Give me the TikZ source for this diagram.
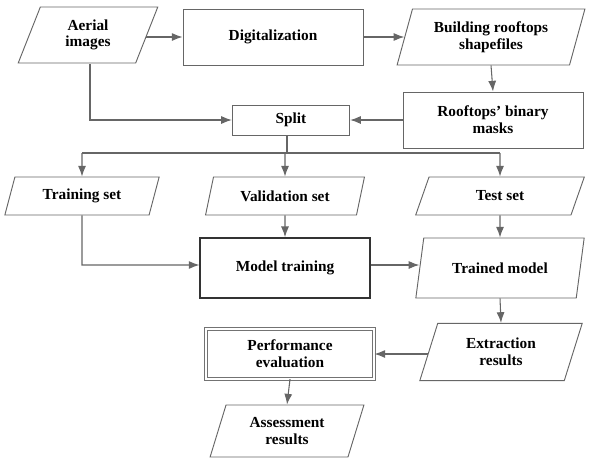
\documentclass[tikz,border=0pt]{standalone}
\usepackage{fontspec}
\setmainfont{Liberation Serif}
\usetikzlibrary{shapes.geometric,arrows.meta}
\begin{document}
\begin{tikzpicture}[x=0.75pt,y=-0.75pt,
  base/.style={draw=black!60,line width=0.7pt,align=center,font=\fontsize{11.5}{12.5}\selectfont\bfseries,inner sep=2pt},
  box/.style={base,rectangle},
  para/.style={base,trapezium,trapezium left angle=72,trapezium right angle=108,trapezium stretches=true},
  conn/.style={draw=black!60,line width=0.8pt,-{Latex[length=8pt,width=6pt]}}]
\useasboundingbox (0,0) rectangle (602,458);
\node[para,minimum width=105pt,minimum height=42pt] (aer) at (88,35) {Aerial\\images};
\node[box,minimum width=135pt,minimum height=42pt] (dig) at (273,37) {Digitalization};
\node[para,minimum width=141pt,minimum height=42pt] (bld) at (491,37) {Building rooftops\\shapefiles};
\node[box,minimum width=135pt,minimum height=42pt] (msk) at (493,120) {Rooftops' binary\\masks};
\node[box,minimum width=88pt,minimum height=22.5pt] (spl) at (291,120) {Split};
\node[para,minimum width=116pt,minimum height=28.5pt] (trn) at (82,196) {Training set};
\node[para,minimum width=120pt,minimum height=28.5pt] (val) at (285,196) {Validation set};
\node[para,minimum width=127pt,minimum height=28.5pt] (tst) at (500,196) {Test set};
\node[box,draw=black!80,line width=1.3pt,minimum width=127pt,minimum height=45pt] (mod) at (285,268) {Model training};
\node[para,minimum width=127pt,minimum height=45pt] (tmd) at (500,268) {Trained model};
\node[para,minimum width=122pt,minimum height=43pt] (ext) at (501,352) {Extraction\\results};
\node[box,double=white,double distance=1.5pt,draw=black!55,minimum width=126pt,minimum height=37pt] (per) at (290,354) {Performance\\evaluation};
\node[para,minimum width=116pt,minimum height=39pt] (ass) at (287,431) {Assessment\\results};
\coordinate (bus) at (287,153);
\draw[conn] (146,37) -- (dig.west);
\draw[conn] (dig.east) -- (bld.west |- dig.east);
\draw[conn] (bld.south) -- (msk.north);
\draw[conn] (msk.west) -- (spl.east);
\draw[conn] (90,64) -- (90,120) -- (spl.west);
\draw[draw=black!60,line width=0.8pt] (spl.south -| bus) -- (bus);
\draw[draw=black!60,line width=0.8pt] (82,153) -- (500,153);
\draw[conn] (82,153) -- (trn.north);
\draw[conn] (285,153) -- (val.north);
\draw[conn] (500,153) -- (tst.north);
\draw[conn] (trn.south) -- (82,265) -- (mod.west |- 0,265);
\draw[conn] (val.south) -- (mod.north);
\draw[conn] (mod.east |- 0,265) -- (tmd.west |- 0,265);
\draw[conn] (tst.south) -- (tmd.north);
\draw[conn] (tmd.south) -- (ext.north);
\draw[conn] (ext.west |- per.east) -- (per.east);
\draw[conn] (per.south) -- (ass.north);
\end{tikzpicture}
\end{document}
